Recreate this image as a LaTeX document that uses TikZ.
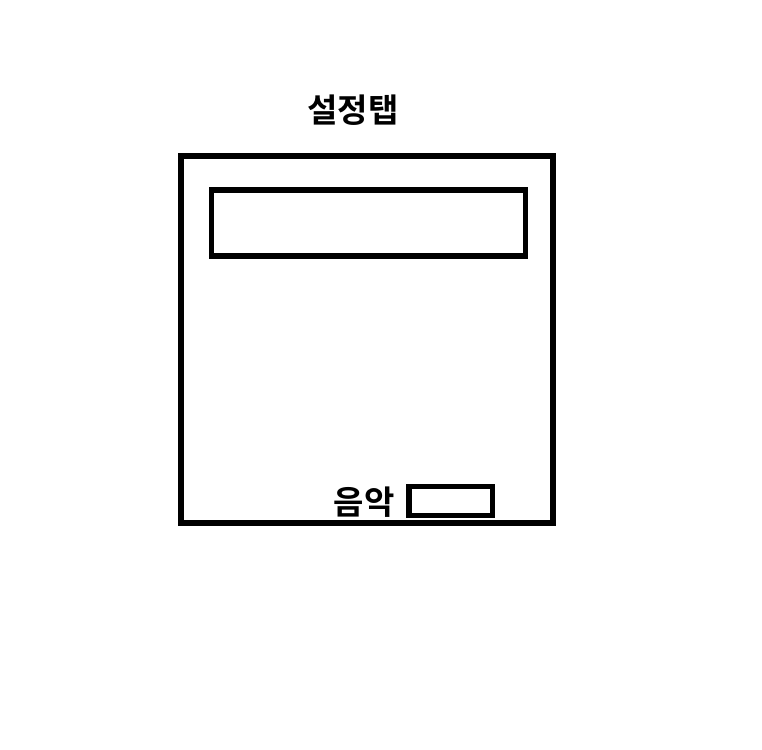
\documentclass[tikz,border=0pt]{standalone}
\usepackage{fontspec}
\newfontfamily\kr{Noto Sans CJK KR}[BoldFont={Noto Sans CJK KR Bold}]
\begin{document}
\begin{tikzpicture}[x=1pt,y=-1pt,
  box/.style={draw=black,line width=5.2pt,fill=none},
  lbl/.style={font=\kr\bfseries\fontsize{33}{38}\selectfont,inner sep=0pt}]
\useasboundingbox (0,0) rectangle (762,749);
\draw[box] (181,156) rectangle (553,523);
\node[draw=none] (outer) at (367,339.5) {};
\draw[box] (211.5,190) rectangle (525.5,256);
\node (inner) at (368.5,223) {};
\draw[box] (409,486.5) rectangle (492.5,515.5);
\node (small) at (450.75,501) {};
\node[lbl] (title) at (353,110) {설정탭};
\node[lbl] (music) at (364,502) {음악};
\end{tikzpicture}
\end{document}
